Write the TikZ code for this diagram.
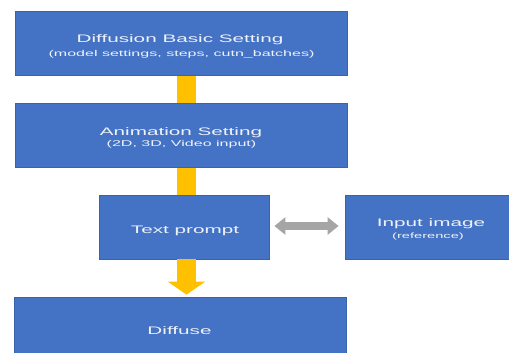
\documentclass[tikz,border=0pt]{standalone}
\usepackage{fontspec}
\usetikzlibrary{arrows.meta,calc}
\newfontfamily\wideface[FakeStretch=1.9]{Liberation Sans}
\definecolor{boxblue}{HTML}{4472C4}
\definecolor{boxedge}{HTML}{3A63AD}
\definecolor{ybar}{HTML}{FFC000}
\definecolor{garrow}{HTML}{A5A5A5}
\definecolor{boxtext}{HTML}{EEF2F8}
\tikzset{
  bluebox/.style={rectangle, fill=boxblue, draw=boxedge, line width=0.8pt, inner sep=0pt},
  ttltext/.style={text=boxtext, anchor=base, inner sep=0pt, font=\wideface\fontsize{10.9}{12}\selectfont},
  subtext/.style={text=boxtext, anchor=base, inner sep=0pt, font=\wideface\fontsize{8.45}{10}\selectfont},
  subsmall/.style={text=boxtext, anchor=base, inner sep=0pt, font=\wideface\fontsize{7.7}{9}\selectfont},
  yconn/.style={draw=ybar, line width=19pt},
  yarrow/.style={draw=ybar, line width=19pt, -{Triangle[length=13pt,width=37pt]}},
  gconn/.style={draw=garrow, line width=8pt, {Triangle[length=11pt,width=17pt]}-{Triangle[length=11pt,width=17pt]}},
}
\begin{document}
\begin{tikzpicture}[x=1pt,y=-1pt]
\useasboundingbox (0,0) rectangle (509,353);
\clip (0,0) rectangle (509,353);
\fill[white] (0,0) rectangle (509,353);
\node[bluebox, minimum width=332pt, minimum height=63.5pt] (b1) at (181,43.5) {};
\node[bluebox, minimum width=332pt, minimum height=64pt] (b2) at (181,135.5) {};
\node[bluebox, minimum width=170pt, minimum height=64pt] (b3) at (184,227) {};
\node[bluebox, minimum width=170pt, minimum height=64pt] (b4) at (430,227) {};
\node[bluebox, minimum width=332pt, minimum height=64pt] (b5) at (180,329) {};
\node[ttltext] (b1t) at ($(b1.center)+(-1,-1)$) {Diffusion Basic Setting};
\node[subtext] (b1s) at ($(b1.center)+(0.5,13)$) {(model settings, steps, cutn\_batches)};
\node[ttltext] (b2t) at ($(b2.center)+(0,0)$) {Animation Setting};
\node[subtext] (b2s) at ($(b2.center)+(0.5,11)$) {(2D, 3D, Video input)};
\node[ttltext] (b3t) at ($(b3.center)+(1,6)$) {Text prompt};
\node[ttltext] (b4t) at ($(b4.center)+(1,-0.5)$) {Input image};
\node[subsmall] (b4s) at ($(b4.center)+(-2,11.5)$) {(reference)};
\node[ttltext] (b5t) at ($(b5.center)+(-0.5,5.5)$) {Diffuse};
\coordinate (cx) at (186.5,0);
\path[yconn] (b1.south -| cx) -- (b2.north -| cx);
\path[yconn] (b2.south -| cx) -- (b3.north -| cx);
\path[yarrow, shorten >=2pt] (b3.south -| cx) -- (b5.north -| cx);
\path[gconn, shorten <=5pt, shorten >=6pt] ([yshift=1pt]b3.east) -- ([yshift=1pt]b4.west);
\end{tikzpicture}
\end{document}
